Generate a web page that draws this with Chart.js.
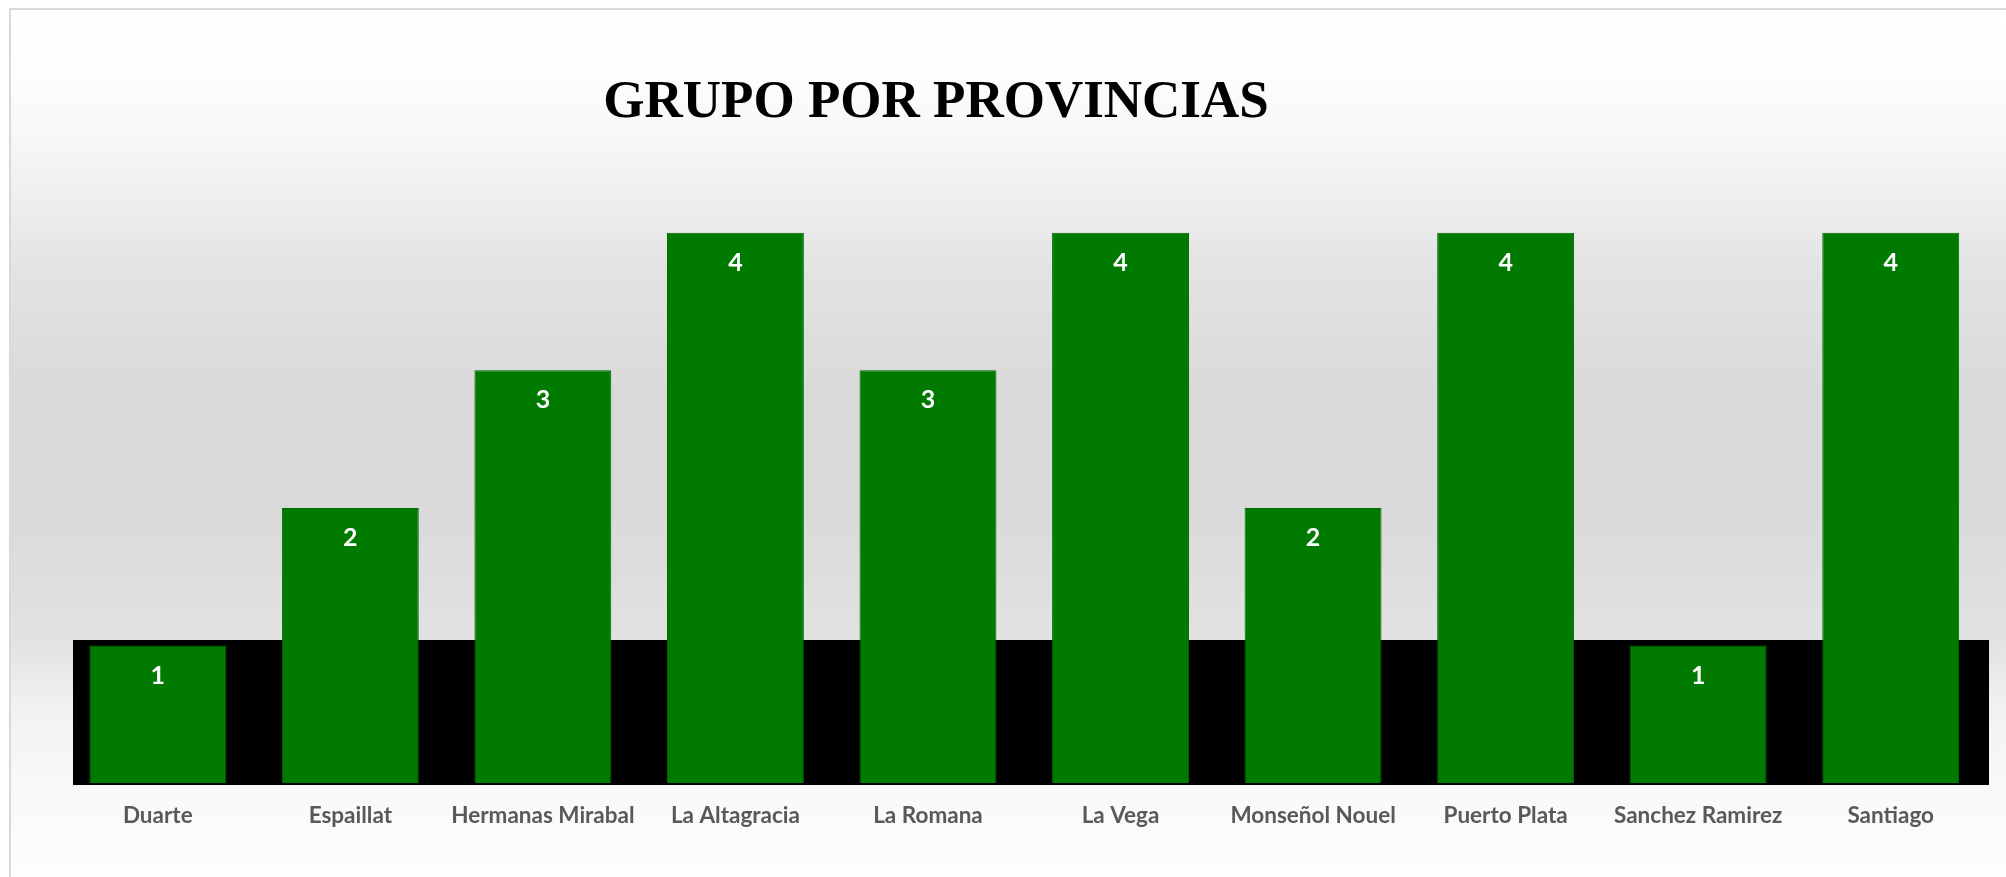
<!DOCTYPE html>
<html>
<head>
<meta charset="utf-8">
<script src="https://cdn.jsdelivr.net/npm/chart.js@4/dist/chart.umd.min.js"></script>
<style>
  html, body { margin: 0; padding: 0; background: #ffffff; overflow: hidden; }
  #wrap { position: absolute; left: 0; top: 0; width: 2006px; height: 877px; }
</style>
</head>
<body>
<div id="wrap"><canvas id="c" width="2006" height="877"></canvas></div>
<script>
const chartTitle = "GRUPO POR PROVINCIAS";
const categories = ["Duarte", "Espaillat", "Hermanas Mirabal", "La Altagracia", "La Romana", "La Vega", "Monseñol Nouel", "Puerto Plata", "Sanchez Ramirez", "Santiago"];
const values = [1, 2, 3, 4, 3, 4, 2, 4, 1, 4];

const labelFont = "Lato, 'Open Sans', sans-serif";

const backgroundPlugin = {
  id: 'bgFrame',
  beforeDraw(chart) {
    const ctx = chart.ctx;
    ctx.save();
    ctx.fillStyle = '#ffffff';
    ctx.fillRect(0, 0, chart.width, chart.height);
    const top = 9, left = 10;
    const g = ctx.createLinearGradient(0, top, 0, chart.height);
    const H = chart.height - top;
    const stop = (y, c) => g.addColorStop(Math.min(1, Math.max(0, (y - top) / H)), c);
    stop(9, '#ffffff'); stop(60, '#fefefe'); stop(130, '#f8f8f8'); stop(200, '#eeeeee');
    stop(270, '#e3e3e3'); stop(400, '#d9d9d9'); stop(500, '#d9d9d9'); stop(640, '#e2e2e2');
    stop(710, '#f2f2f2'); stop(790, '#f9f9f9'); stop(877, '#fdfdfd');
    ctx.fillStyle = g;
    ctx.fillRect(left, top, chart.width - left, chart.height - top);
    ctx.strokeStyle = '#d9d9d9';
    ctx.lineWidth = 2;
    ctx.beginPath();
    ctx.moveTo(left, chart.height); ctx.lineTo(left, top); ctx.lineTo(chart.width, top);
    ctx.stroke();
    // title
    ctx.fillStyle = '#000000';
    ctx.font = "bold 53px 'Liberation Serif', 'Times New Roman', serif";
    ctx.textAlign = 'center';
    ctx.textBaseline = 'alphabetic';
    ctx.fillText(chartTitle, 936, 117);
    ctx.restore();
  },
  beforeDatasetsDraw(chart) {
    const ctx = chart.ctx;
    const a = chart.chartArea;
    ctx.save();
    ctx.fillStyle = '#000000';
    ctx.fillRect(a.left + 11.5, 640, (a.right + 2) - (a.left + 11.5), 785 - 640);
    ctx.restore();
  },
  afterDatasetsDraw(chart) {
    const ctx = chart.ctx;
    const meta = chart.getDatasetMeta(0);
    ctx.save();
    ctx.fillStyle = '#ffffff';
    ctx.font = "bold 25px " + labelFont;
    ctx.textAlign = 'center';
    ctx.textBaseline = 'middle';
    meta.data.forEach((bar, i) => {
      ctx.fillText(String(values[i]), bar.x, bar.y + 30);
    });
    ctx.restore();
  }
};

new Chart(document.getElementById('c'), {
  type: 'bar',
  data: {
    labels: categories,
    datasets: [{
      data: values,
      backgroundColor: '#007a00',
      borderColor: '#006a00',
      borderWidth: 1,
      barPercentage: 0.711,
      categoryPercentage: 1.0
    }]
  },
  options: {
    responsive: false,
    animation: false,
    events: [],
    layout: { padding: { left: 61.5, right: 19, top: 164, bottom: 0 } },
    plugins: { legend: { display: false }, title: { display: false }, tooltip: { enabled: false } },
    scales: {
      x: {
        grid: { display: false },
        border: { display: false },
        ticks: { color: '#595959', font: { family: labelFont, size: 22.5, weight: 'bold' }, padding: 11, maxRotation: 0, autoSkip: false },
        afterFit(scale) { scale.height = 94; }
      },
      y: {
        display: false,
        min: 0,
        max: 4.5
      }
    }
  },
  plugins: [backgroundPlugin]
});
</script>
</body>
</html>
